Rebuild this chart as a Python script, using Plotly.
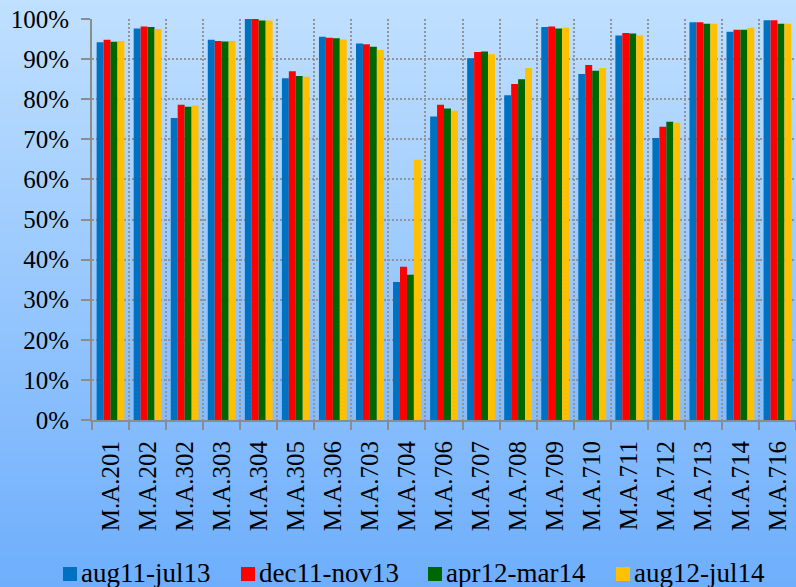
import base64, struct, zlib
import plotly.graph_objects as go

categories = ["M.A.201", "M.A.202", "M.A.302", "M.A.303", "M.A.304", "M.A.305",
              "M.A.306", "M.A.703", "M.A.704", "M.A.706", "M.A.707", "M.A.708",
              "M.A.709", "M.A.710", "M.A.711", "M.A.712", "M.A.713", "M.A.714", "M.A.716"]

aug11_jul13 = [94.2, 97.6, 75.3, 94.8, 100.0, 85.2, 95.6, 93.9, 34.4, 75.7, 90.2, 81.0,
               98.0, 86.3, 95.9, 70.3, 99.2, 96.8, 99.7]
dec11_nov13 = [94.8, 98.1, 78.6, 94.5, 100.0, 87.0, 95.3, 93.7, 38.2, 78.6, 91.8, 83.8,
               98.1, 88.5, 96.5, 73.1, 99.2, 97.3, 99.7]
apr12_mar14 = [94.3, 98.0, 78.1, 94.4, 99.6, 85.8, 95.2, 93.1, 36.2, 77.7, 91.9, 85.0,
               97.6, 87.1, 96.4, 74.4, 98.8, 97.3, 98.8]
aug12_jul14 = [94.5, 97.5, 78.4, 94.5, 99.6, 85.6, 94.9, 92.3, 64.9, 77.1, 91.2, 87.8,
               97.8, 87.8, 95.9, 74.1, 98.8, 97.8, 98.8]

series_names = ["aug11-jul13", "dec11-nov13", "apr12-mar14", "aug12-jul14"]
series_values = [aug11_jul13, dec11_nov13, apr12_mar14, aug12_jul14]
series_colors = ["#0070C0", "#FF0000", "#006600", "#FFC000"]

W, H = 796, 587
ML, MR, MT, MB = 92, 0, 19, 167
pw = W - ML - MR
ph = H - MT - MB

# legend layout (page pixels): left edge of each key square
legend_left_px = [63, 241, 428, 616]
legend_sq = 14
legend_sq_top = 567
legend_text_mid = 573


def px_to_paper_x(px):
    return (px - ML) / pw


def px_to_paper_y(py):
    return (H - MB - py) / ph


def gradient_png(h, top, bottom):
    rows = b""
    for i in range(h):
        t = i / (h - 1)
        c = [round(top[k] + (bottom[k] - top[k]) * t) for k in range(3)]
        rows += b"\x00" + bytes(c)
    def chunk(tag, data):
        return struct.pack(">I", len(data)) + tag + data + struct.pack(">I", zlib.crc32(tag + data) & 0xffffffff)
    png = b"\x89PNG\r\n\x1a\n"
    png += chunk(b"IHDR", struct.pack(">IIBBBBB", 1, h, 8, 2, 0, 0, 0))
    png += chunk(b"IDAT", zlib.compress(rows))
    png += chunk(b"IEND", b"")
    return "data:image/png;base64," + base64.b64encode(png).decode()


bg = gradient_png(H, (192, 224, 255), (110, 174, 252))

fig = go.Figure()
for name, vals, col in zip(series_names, series_values, series_colors):
    fig.add_trace(go.Bar(x=categories, y=[v / 100 for v in vals], name=name,
                         marker=dict(color=col, line=dict(width=0))))

fig.add_layout_image(dict(source=bg, xref="paper", yref="paper",
                          x=-ML / pw, y=1 + MT / ph, sizex=W / pw, sizey=H / ph,
                          xanchor="left", yanchor="top", sizing="stretch", layer="below"))

font = dict(family="Liberation Serif, Times New Roman, serif", size=25, color="black")
lfont = dict(family="Liberation Serif, Times New Roman, serif", size=27, color="black")

# legend keys
for name, col, lx in zip(series_names, series_colors, legend_left_px):
    fig.add_shape(type="rect", xref="paper", yref="paper",
                  x0=px_to_paper_x(lx), x1=px_to_paper_x(lx + legend_sq),
                  y0=px_to_paper_y(legend_sq_top + legend_sq), y1=px_to_paper_y(legend_sq_top),
                  fillcolor=col, line=dict(width=0), layer="above")
    fig.add_annotation(text=name, xref="paper", yref="paper",
                       x=px_to_paper_x(lx + legend_sq + 3), y=px_to_paper_y(legend_text_mid),
                       xanchor="left", yanchor="middle", showarrow=False, font=lfont,
                       borderpad=0)

fig.update_layout(
    width=W, height=H,
    margin=dict(l=ML, r=MR, t=MT, b=MB, pad=0, autoexpand=False),
    paper_bgcolor="#a0cdff", plot_bgcolor="rgba(0,0,0,0)",
    font=font,
    barmode="group", bargap=0.25, bargroupgap=0,
    showlegend=False,
)
fig.update_xaxes(type="category", tickson="boundaries", ticks="outside", ticklen=8,
                 tickcolor="#8c8c8c", tickwidth=2, showline=True, linecolor="#8c8c8c",
                 linewidth=2, showgrid=True, gridcolor="#949494", gridwidth=1.5,
                 griddash="2px,2px", tickangle=-90, tickfont=font, ticklabelstandoff=9)
fig.update_yaxes(range=[0, 1.0], dtick=0.1, tickformat=".0%", ticks="outside", ticklen=9,
                 tickcolor="#8c8c8c", tickwidth=2, showline=True, linecolor="#8c8c8c",
                 linewidth=2, showgrid=True, gridcolor="#949494", gridwidth=1.5,
                 griddash="2px,2px", zeroline=False, tickfont=font, ticklabelstandoff=7)

fig.write_html("out.html", config={"displayModeBar": False},
               post_script="document.body.style.margin='0';document.body.style.overflow='hidden';")
